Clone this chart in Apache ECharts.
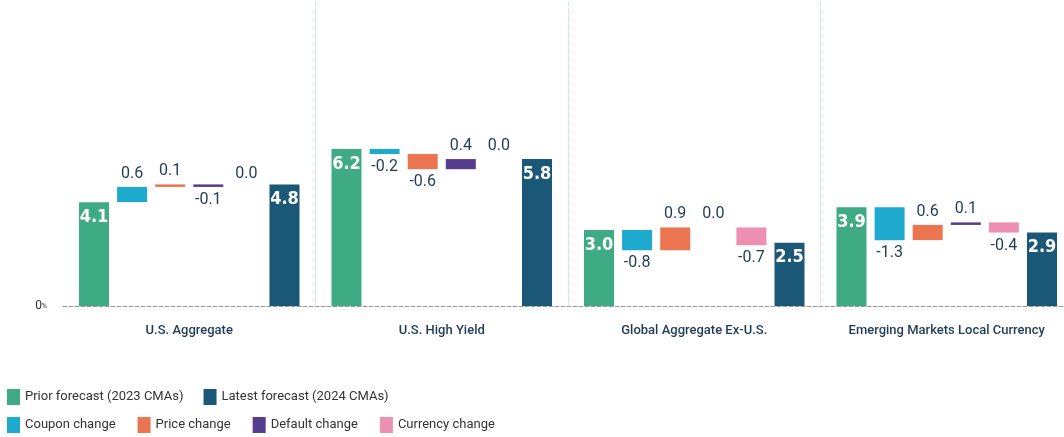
<!DOCTYPE html>
<html>
<head>
<meta charset="utf-8">
<script src="https://cdn.jsdelivr.net/npm/echarts@6/dist/echarts.min.js"></script>
<style>
  html, body { margin: 0; padding: 0; background: #fff; }
  #chart { width: 1064px; height: 437px; }
</style>
</head>
<body>
<div id="chart"></div>
<script>
// data (percent)
const categories = ["U.S. Aggregate", "U.S. High Yield", "Global Aggregate Ex-U.S.", "Emerging Markets Local Currency"];
const prior = [4.1, 6.2, 3.0, 3.9];
const coupon = [0.6, -0.2, -0.8, -1.3];
const price = [0.1, -0.6, 0.9, 0.6];
const defaultChg = [-0.1, 0.4, 0.0, 0.1];
const currency = [0.0, 0.0, -0.7, -0.4];
const latest = [4.8, 5.8, 2.5, 2.9];

const colors = {
  prior: "#3fab84",
  latest: "#1b5777",
  coupon: "#1ea9cf",
  price: "#ea7550",
  default: "#553c8f",
  currency: "#ec8fb0",
};
const labelColor = "#1f3b57";

// running totals for the floating bars
const steps = [coupon, price, defaultChg, currency];
const bases = [];
const running = prior.slice();
steps.forEach((arr) => {
  const b = [];
  arr.forEach((v, i) => {
    const start = running[i];
    const end = start + v;
    b.push(Math.min(start, end));
    running[i] = end;
  });
  bases.push(b);
});

const totalLabel = {
  show: true,
  position: "insideTop",
  distance: 6,
  color: "#fff",
  fontFamily: "DejaVu Sans Condensed",
  fontWeight: "bold",
  fontSize: 18,
  formatter: (p) => p.value.toFixed(1),
};

const makeTotal = (name, data, color, stack) => ({
  name: name,
  type: "bar",
  stack: stack,
  barWidth: 30,
  barGap: "27%",
  itemStyle: { color: color },
  label: totalLabel,
  data: data,
});

const makeStep = (name, changes, base, color, stack) => [
  {
    type: "bar",
    stack: stack,
    barWidth: 30,
    barGap: "27%",
    silent: true,
    itemStyle: { color: "transparent" },
    data: base,
  },
  {
    name: name,
    type: "bar",
    stack: stack,
    barWidth: 30,
    barGap: "27%",
    itemStyle: { color: color },
    data: changes.map((v) => ({
      value: Math.abs(v),
      label: {
        show: true,
        position: v < 0 ? "bottom" : "top",
        distance: 5,
        color: labelColor,
        fontFamily: "Roboto",
        fontSize: 16,
        formatter: () => v.toFixed(1),
      },
    })),
  },
];

const chart = echarts.init(document.getElementById("chart"));

const legendText = { fontFamily: "Roboto", fontSize: 13, color: "#333" };

const option = {
  animation: false,
  grid: { left: 63, top: 2, width: 1010, height: 304, outerBoundsMode: "none", containLabel: false },
  legend: [
    {
      left: 2,
      top: 384,
      icon: "rect",
      itemWidth: 13,
      itemHeight: 16,
      itemGap: 20,
      textStyle: legendText,
      data: ["Prior forecast (2023 CMAs)", "Latest forecast (2024 CMAs)"],
    },
    {
      left: 2,
      top: 412,
      icon: "rect",
      itemWidth: 13,
      itemHeight: 16,
      itemGap: 22,
      textStyle: legendText,
      data: ["Coupon change", "Price change", "Default change", "Currency change"],
    },
  ],
  xAxis: {
    type: "category",
    data: categories,
    axisLine: { lineStyle: { color: "#999", type: "dashed", width: 1 } },
    axisTick: { show: false },
    axisLabel: {
      interval: 0,
      margin: 18,
      color: labelColor,
      fontFamily: "Roboto",
      fontWeight: 500,
      fontSize: 13,
    },
    splitLine: {
      show: true,
      interval: (i) => i > 0,
      lineStyle: { color: "#c6dbe8", type: "dotted", width: 1 },
    },
  },
  yAxis: {
    type: "value",
    min: 0,
    max: 12,
    interval: 12,
    axisLine: { show: false },
    axisTick: { show: false },
    splitLine: { show: false },
    axisLabel: {
      margin: 16,
      formatter: (v) => (v === 0 ? "{a|0}{b|%}" : ""),
      rich: {
        a: { fontFamily: "Roboto", fontSize: 12, color: "#333" },
        b: { fontFamily: "Roboto", fontSize: 7, color: "#333" },
      },
    },
  },
  series: [
    makeTotal("Prior forecast (2023 CMAs)", prior, colors.prior, "s0"),
    ...makeStep("Coupon change", coupon, bases[0], colors.coupon, "s1"),
    ...makeStep("Price change", price, bases[1], colors.price, "s2"),
    ...makeStep("Default change", defaultChg, bases[2], colors.default, "s3"),
    ...makeStep("Currency change", currency, bases[3], colors.currency, "s4"),
    makeTotal("Latest forecast (2024 CMAs)", latest, colors.latest, "s5"),
  ],
};

chart.setOption(option);
window.addEventListener("resize", () => chart.resize());
</script>
</body>
</html>
